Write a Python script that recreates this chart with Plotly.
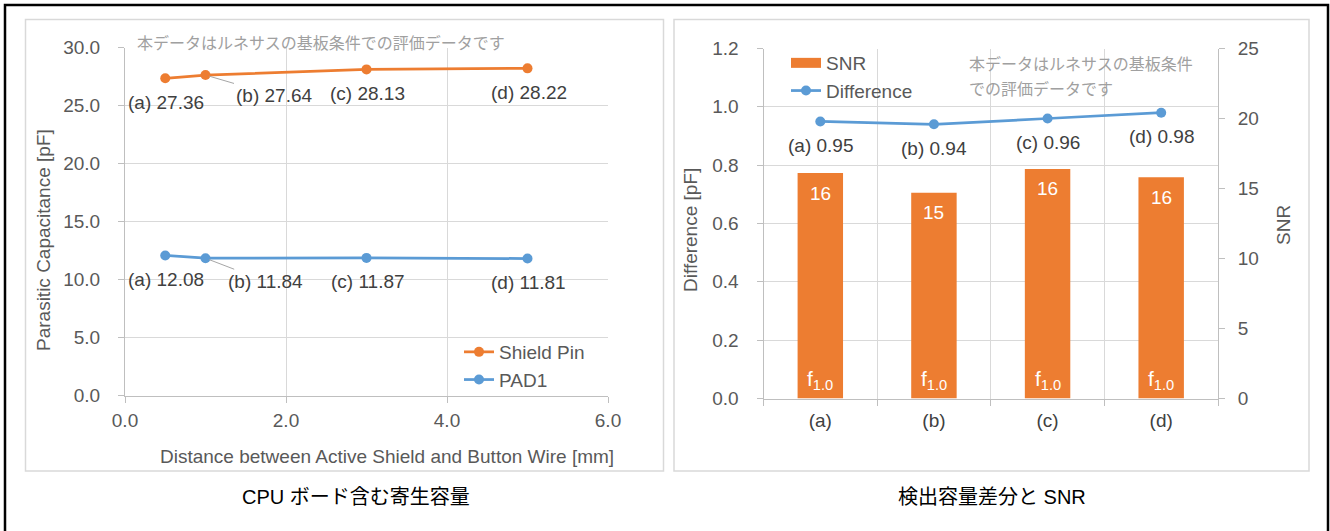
import plotly.graph_objects as go

W, H = 1330, 531

# ---- left chart: parasitic capacitance vs. shield distance ----
distance_mm = [0.5, 1.0, 3.0, 5.0]
point_tags = ["(a)", "(b)", "(c)", "(d)"]
shield_pin_pf = [27.36, 27.64, 28.13, 28.22]
pad1_pf = [12.08, 11.84, 11.87, 11.81]

# ---- right chart: detected difference and SNR ----
conditions = ["(a)", "(b)", "(c)", "(d)"]
snr = [16.1, 14.7, 16.4, 15.8]
difference_pf = [0.95, 0.94, 0.96, 0.98]
freq_tag = "f<sub>1.0</sub>"

note_jp = "本データはルネサスの基板条件での評価データです"
caption_left = "CPU ボード含む寄生容量"
caption_right = "検出容量差分と SNR"

ORANGE = "#ED7D31"
BLUE = "#5B9BD5"
GRID = "#D9D9D9"
AXIS = "#BFBFBF"
TICK = "#595959"
LABEL = "#404040"
FONT = "Liberation Sans, Arial, sans-serif"
JP = "Noto Sans CJK JP, sans-serif"


def px(x):
    return x / W


def py(y):
    return 1 - y / H


def paper_text(x, y, text, size=19, color=TICK, family=FONT, **kw):
    d = dict(x=px(x), y=py(y), xref="paper", yref="paper", text=text, showarrow=False,
             xanchor="center", yanchor="middle", font=dict(size=size, color=color, family=family))
    d.update(kw)
    return d


fig = go.Figure()

# left chart lines
fig.add_trace(go.Scatter(
    x=distance_mm, y=shield_pin_pf, mode="lines+markers", name="Shield Pin",
    line=dict(color=ORANGE, width=2.75), marker=dict(size=10, color=ORANGE),
    xaxis="x", yaxis="y", legend="legend",
))
fig.add_trace(go.Scatter(
    x=distance_mm, y=pad1_pf, mode="lines+markers", name="PAD1",
    line=dict(color=BLUE, width=2.75), marker=dict(size=10, color=BLUE),
    xaxis="x", yaxis="y", legend="legend",
))

# right chart: bars (SNR, right axis) + line (difference, left axis)
fig.add_trace(go.Bar(
    x=conditions, y=snr, name="SNR", marker=dict(color=ORANGE, line=dict(width=0)),
    width=0.4, xaxis="x2", yaxis="y3", showlegend=False,
))
# legend proxy so the SNR key is a wide flat block like the original
fig.add_trace(go.Scatter(
    x=[None], y=[None], mode="lines", name="SNR",
    line=dict(color=ORANGE, width=10), xaxis="x2", yaxis="y3", legend="legend2",
))
fig.add_trace(go.Scatter(
    x=conditions, y=difference_pf, mode="lines+markers", name="Difference",
    line=dict(color=BLUE, width=2.75), marker=dict(size=10, color=BLUE),
    xaxis="x2", yaxis="y2", legend="legend2",
))

annotations = []

# data labels, left chart
for series in (shield_pin_pf, pad1_pf):
    for i, (xv, yv) in enumerate(zip(distance_mm, series)):
        text = f"{point_tags[i]} {yv:.2f}"
        if i == 1:
            # label pulled right with a leader line
            annotations.append(dict(
                x=xv, y=yv, xref="x", yref="y", text=text, showarrow=True,
                ax=68 if series is shield_pin_pf else 60, ay=20 if series is shield_pin_pf else 23,
                arrowhead=0, arrowwidth=1, arrowcolor="#A6A6A6", standoff=4,
                font=dict(size=19, color=LABEL, family=FONT),
            ))
        else:
            annotations.append(dict(
                x=xv, y=yv, xref="x", yref="y", text=text, showarrow=False,
                yshift=-24, xshift=1, font=dict(size=19, color=LABEL, family=FONT),
            ))

# data labels, right chart
for c, d in zip(conditions, difference_pf):
    annotations.append(dict(
        x=c, y=d, xref="x2", yref="y2", text=f"{c} {d:.2f}", showarrow=False,
        yshift=-24, font=dict(size=19, color=LABEL, family=FONT),
    ))
for c, s in zip(conditions, snr):
    annotations.append(dict(
        x=c, y=s, xref="x2", yref="y3", text=f"{s:.0f}", showarrow=False,
        yshift=-20, font=dict(size=19, color="white", family=FONT),
    ))
    annotations.append(dict(
        x=c, y=0, xref="x2", yref="y3", text=freq_tag, showarrow=False,
        yanchor="bottom", yshift=4, font=dict(size=21, color="white", family=FONT),
    ))

# notes
annotations.append(paper_text(321, 42, note_jp, size=16, color="#A0A0A0", family=JP))
annotations.append(paper_text(967, 63, note_jp[:14], size=16, color="#A0A0A0", family=JP,
                              xanchor="left"))
annotations.append(paper_text(967, 87.5, note_jp[14:], size=16, color="#A0A0A0", family=JP,
                              xanchor="left"))

# axis titles
annotations += [
    paper_text(43, 240, "Parasitic Capacitance [pF]", textangle=-90),
    paper_text(387, 456, "Distance between Active Shield and Button Wire [mm]"),
    paper_text(690, 230, "Difference [pF]", textangle=-90),
    paper_text(1283, 225, "SNR", textangle=-90),
]

# captions under each panel
annotations += [
    paper_text(356, 497, caption_left, size=20, color="black", family=FONT + ", " + JP),
    paper_text(992, 497, caption_right, size=20, color="black", family=FONT + ", " + JP),
]

shapes = [
    dict(type="rect", xref="paper", yref="paper", x0=px(5), x1=px(1328), y0=-0.05, y1=py(5),
         line=dict(color="black", width=2.5)),
    dict(type="rect", xref="paper", yref="paper", x0=px(25.5), x1=px(663.5), y0=py(471), y1=py(19.5),
         line=dict(color=GRID, width=1.5)),
    dict(type="rect", xref="paper", yref="paper", x0=px(674), x1=px(1309), y0=py(471), y1=py(19.5),
         line=dict(color=GRID, width=1.5)),
]

tickfont = dict(size=19, color=TICK, family=FONT)
common = dict(showgrid=True, gridcolor=GRID, gridwidth=1, showline=True, linecolor=AXIS,
              linewidth=1, ticks="outside", ticklen=6, tickcolor=AXIS,
              zeroline=False, automargin=False)

fig.update_layout(
    width=W, height=H,
    margin=dict(l=0, r=0, t=0, b=0, pad=0, autoexpand=False),
    paper_bgcolor="white", plot_bgcolor="rgba(0,0,0,0)",
    font=dict(family=FONT),
    xaxis=dict(domain=[px(125), px(608)], range=[0, 6], dtick=2, tickformat=".1f",
               anchor="y", ticklabelstandoff=2, tickfont=tickfont, **common),
    yaxis=dict(domain=[py(395.5), py(47.7)], range=[0, 30], dtick=5, tickformat=".1f",
               anchor="x", ticklabelstandoff=14, tickfont=tickfont, **common),
    xaxis2=dict(domain=[px(763.5), px(1218)], type="category", tickson="boundaries",
                anchor="y2", ticklabelstandoff=5,
                tickfont=dict(size=19, color=LABEL, family=FONT), **common),
    yaxis2=dict(domain=[py(398.5), py(48.5)], range=[0, 1.2], dtick=0.2, tickformat=".1f",
                anchor="x2", ticklabelstandoff=14, tickfont=tickfont, **common),
    yaxis3=dict(range=[0, 25], dtick=5, overlaying="y2", side="right", anchor="x2",
                showgrid=False, showline=True, linecolor=AXIS, ticks="outside", ticklen=6,
                tickcolor=AXIS, tickfont=tickfont, zeroline=False, ticklabelstandoff=9,
                automargin=False),
    legend=dict(x=px(459), y=py(333), xanchor="left", yanchor="top",
                font=dict(size=19, color=TICK, family=FONT), bgcolor="rgba(0,0,0,0)"),
    legend2=dict(x=px(786), y=py(44), xanchor="left", yanchor="top",
                 font=dict(size=19, color=TICK, family=FONT), bgcolor="rgba(0,0,0,0)"),
    annotations=annotations,
    shapes=shapes,
    bargap=0.6,
)

# the page's default 8px body margin would push the figure off its origin
fig.write_html("out.html", config={"displayModeBar": False},
               post_script="document.body.style.margin = '0';")
